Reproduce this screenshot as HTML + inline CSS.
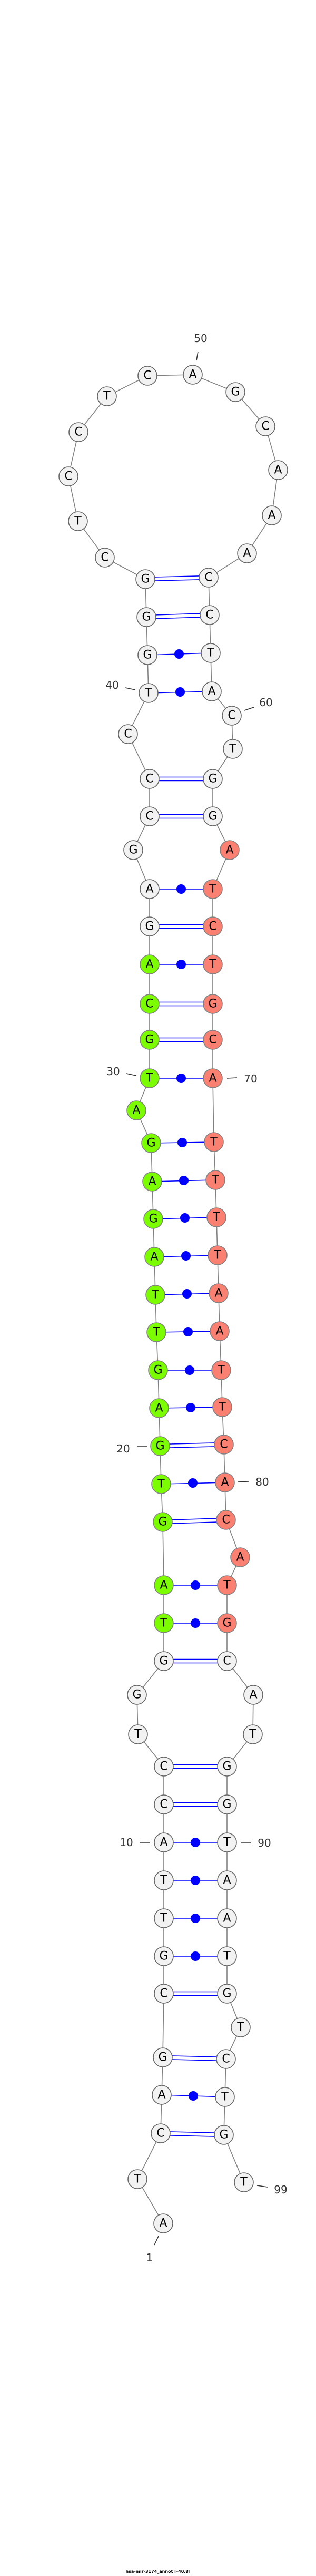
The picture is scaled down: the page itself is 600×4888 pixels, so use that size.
<!DOCTYPE html>
<html><head><meta charset="utf-8"><style>
html,body{margin:0;padding:0;background:#fff;width:600px;height:4888px;overflow:hidden}
svg{display:block}
.n circle{fill:#f2f2f2;stroke:#666;stroke-width:1.6}
.g circle{fill:#7cfc00;stroke:#808080}
.s circle{fill:#fa8072;stroke:#808080}
.n text{font-family:"DejaVu Sans","Liberation Sans",sans-serif;font-size:22px;text-anchor:middle;dominant-baseline:central;fill:#000}
.lb{font-family:"DejaVu Sans","Liberation Sans",sans-serif;font-size:20px;fill:#333;text-anchor:middle;dominant-baseline:central}
.tk{stroke:#333;stroke-width:1.6}
.p{stroke:#0000ff;stroke-width:1.6}
.d{fill:#0000ff}
</style></head><body>
<svg width="600" height="4888" viewBox="0 0 600 4888" xmlns="http://www.w3.org/2000/svg">
<polyline fill="none" stroke="#808080" stroke-width="1.6" points="310,4219 261,4135 305,4048 307,3975 309,3904 311,3783 311,3712 311,3640 311,3568 311,3496 311,3424 311,3352 262,3291 260,3216 311,3152 311,3080 311,3008 309,2888 306,2816 304,2744 302,2672 300,2600 297,2528 295,2457 293,2385 291,2313 289,2242 287,2169 259,2107 284,2046 284,1973 284,1905 284,1830 284,1758 284,1687 253,1613 284,1549 284,1478 243,1393 282,1315 280,1243 278,1171 276,1099 199,1058 148,989 130,904 149,820 203,752 280,713 366,711 447,744 504,809 528,892 516,978 469,1050 396,1096 398,1167 400,1239 402,1312 440,1358 442,1421 404,1478 404,1549 436,1613 404,1687 404,1758 404,1830 404,1905 404,1973 404,2046 406,2167 409,2239 411,2310 413,2382 415,2454 417,2526 420,2600 422,2670 425,2741 427,2813 429,2884 456,2955 431,3008 431,3080 431,3152 481,3216 480,3291 431,3352 431,3424 431,3496 431,3568 431,3640 431,3712 431,3783 457,3847 429,3907 427,3979 425,4051 463,4141"/>
<g class="p">
<!-- double (GC) pairs -->
<line x1="276" y1="1095.5" x2="396" y2="1092.5"/><line x1="276" y1="1102.5" x2="396" y2="1099.5"/>
<line x1="278" y1="1167.5" x2="398" y2="1163.5"/><line x1="278" y1="1174.5" x2="398" y2="1170.5"/>
<line x1="284" y1="1474.5" x2="404" y2="1474.5"/><line x1="284" y1="1481.5" x2="404" y2="1481.5"/>
<line x1="284" y1="1545.5" x2="404" y2="1545.5"/><line x1="284" y1="1552.5" x2="404" y2="1552.5"/>
<line x1="284" y1="1754.5" x2="404" y2="1754.5"/><line x1="284" y1="1761.5" x2="404" y2="1761.5"/>
<line x1="284" y1="1901.5" x2="404" y2="1901.5"/><line x1="284" y1="1908.5" x2="404" y2="1908.5"/>
<line x1="284" y1="1969.5" x2="404" y2="1969.5"/><line x1="284" y1="1976.5" x2="404" y2="1976.5"/>
<line x1="304" y1="2740.5" x2="425" y2="2737.5"/><line x1="304" y1="2747.5" x2="425" y2="2744.5"/>
<line x1="309" y1="2884.5" x2="429" y2="2880.5"/><line x1="309" y1="2891.5" x2="429" y2="2887.5"/>
<line x1="311" y1="3148.5" x2="431" y2="3148.5"/><line x1="311" y1="3155.5" x2="431" y2="3155.5"/>
<line x1="311" y1="3348.5" x2="431" y2="3348.5"/><line x1="311" y1="3355.5" x2="431" y2="3355.5"/>
<line x1="311" y1="3420.5" x2="431" y2="3420.5"/><line x1="311" y1="3427.5" x2="431" y2="3427.5"/>
<line x1="311" y1="3779.5" x2="431" y2="3779.5"/><line x1="311" y1="3786.5" x2="431" y2="3786.5"/>
<line x1="309" y1="3900.5" x2="429" y2="3903.5"/><line x1="309" y1="3907.5" x2="429" y2="3910.5"/>
<line x1="305" y1="4044.5" x2="425" y2="4047.5"/><line x1="305" y1="4051.5" x2="425" y2="4054.5"/>
<!-- single pairs -->
<line x1="280" y1="1243" x2="400" y2="1239"/>
<line x1="282" y1="1315" x2="402" y2="1312"/>
<line x1="284" y1="1687" x2="404" y2="1687"/>
<line x1="284" y1="1830" x2="404" y2="1830"/>
<line x1="284" y1="2046" x2="404" y2="2046"/>
<line x1="287" y1="2169" x2="406" y2="2167"/>
<line x1="289" y1="2242" x2="409" y2="2239"/>
<line x1="291" y1="2313" x2="411" y2="2310"/>
<line x1="293" y1="2385" x2="413" y2="2382"/>
<line x1="295" y1="2457" x2="415" y2="2454"/>
<line x1="297" y1="2528" x2="417" y2="2526"/>
<line x1="300" y1="2600" x2="420" y2="2600"/>
<line x1="302" y1="2672" x2="422" y2="2670"/>
<line x1="306" y1="2816" x2="427" y2="2813"/>
<line x1="311" y1="3008" x2="431" y2="3008"/>
<line x1="311" y1="3080" x2="431" y2="3080"/>
<line x1="311" y1="3496" x2="431" y2="3496"/>
<line x1="311" y1="3568" x2="431" y2="3568"/>
<line x1="311" y1="3640" x2="431" y2="3640"/>
<line x1="311" y1="3712" x2="431" y2="3712"/>
<line x1="307" y1="3975" x2="427" y2="3979"/>
</g>
<g class="d">
<circle cx="340" cy="1241" r="9"/><circle cx="342" cy="1313" r="9"/><circle cx="344" cy="1687" r="9"/><circle cx="344" cy="1830" r="9"/><circle cx="344" cy="2046" r="9"/><circle cx="346" cy="2168" r="9"/><circle cx="349" cy="2240" r="9"/><circle cx="351" cy="2311" r="9"/><circle cx="353" cy="2383" r="9"/><circle cx="355" cy="2455" r="9"/><circle cx="357" cy="2527" r="9"/><circle cx="360" cy="2600" r="9"/><circle cx="362" cy="2671" r="9"/><circle cx="366" cy="2814" r="9"/><circle cx="371" cy="3008" r="9"/><circle cx="371" cy="3080" r="9"/><circle cx="371" cy="3496" r="9"/><circle cx="371" cy="3568" r="9"/><circle cx="371" cy="3640" r="9"/><circle cx="371" cy="3712" r="9"/><circle cx="367" cy="3977" r="9"/>
</g>
<g class="n">
<g transform="translate(310,4219)"><circle r="18"/><text>A</text></g>
<g transform="translate(261,4135)"><circle r="18"/><text>T</text></g>
<g transform="translate(305,4048)"><circle r="18"/><text>C</text></g>
<g transform="translate(307,3975)"><circle r="18"/><text>A</text></g>
<g transform="translate(309,3904)"><circle r="18"/><text>G</text></g>
<g transform="translate(311,3783)"><circle r="18"/><text>C</text></g>
<g transform="translate(311,3712)"><circle r="18"/><text>G</text></g>
<g transform="translate(311,3640)"><circle r="18"/><text>T</text></g>
<g transform="translate(311,3568)"><circle r="18"/><text>T</text></g>
<g transform="translate(311,3496)"><circle r="18"/><text>A</text></g>
<g transform="translate(311,3424)"><circle r="18"/><text>C</text></g>
<g transform="translate(311,3352)"><circle r="18"/><text>C</text></g>
<g transform="translate(262,3291)"><circle r="18"/><text>T</text></g>
<g transform="translate(260,3216)"><circle r="18"/><text>G</text></g>
<g transform="translate(311,3152)"><circle r="18"/><text>G</text></g>
<g class="g" transform="translate(311,3080)"><circle r="18"/><text>T</text></g>
<g class="g" transform="translate(311,3008)"><circle r="18"/><text>A</text></g>
<g class="g" transform="translate(309,2888)"><circle r="18"/><text>G</text></g>
<g class="g" transform="translate(306,2816)"><circle r="18"/><text>T</text></g>
<g class="g" transform="translate(304,2744)"><circle r="18"/><text>G</text></g>
<g class="g" transform="translate(302,2672)"><circle r="18"/><text>A</text></g>
<g class="g" transform="translate(300,2600)"><circle r="18"/><text>G</text></g>
<g class="g" transform="translate(297,2528)"><circle r="18"/><text>T</text></g>
<g class="g" transform="translate(295,2457)"><circle r="18"/><text>T</text></g>
<g class="g" transform="translate(293,2385)"><circle r="18"/><text>A</text></g>
<g class="g" transform="translate(291,2313)"><circle r="18"/><text>G</text></g>
<g class="g" transform="translate(289,2242)"><circle r="18"/><text>A</text></g>
<g class="g" transform="translate(287,2169)"><circle r="18"/><text>G</text></g>
<g class="g" transform="translate(259,2107)"><circle r="18"/><text>A</text></g>
<g class="g" transform="translate(284,2046)"><circle r="18"/><text>T</text></g>
<g class="g" transform="translate(284,1973)"><circle r="18"/><text>G</text></g>
<g class="g" transform="translate(284,1905)"><circle r="18"/><text>C</text></g>
<g class="g" transform="translate(284,1830)"><circle r="18"/><text>A</text></g>
<g transform="translate(284,1758)"><circle r="18"/><text>G</text></g>
<g transform="translate(284,1687)"><circle r="18"/><text>A</text></g>
<g transform="translate(253,1613)"><circle r="18"/><text>G</text></g>
<g transform="translate(284,1549)"><circle r="18"/><text>C</text></g>
<g transform="translate(284,1478)"><circle r="18"/><text>C</text></g>
<g transform="translate(243,1393)"><circle r="18"/><text>C</text></g>
<g transform="translate(282,1315)"><circle r="18"/><text>T</text></g>
<g transform="translate(280,1243)"><circle r="18"/><text>G</text></g>
<g transform="translate(278,1171)"><circle r="18"/><text>G</text></g>
<g transform="translate(276,1099)"><circle r="18"/><text>G</text></g>
<g transform="translate(199,1058)"><circle r="18"/><text>C</text></g>
<g transform="translate(148,989)"><circle r="18"/><text>T</text></g>
<g transform="translate(130,904)"><circle r="18"/><text>C</text></g>
<g transform="translate(149,820)"><circle r="18"/><text>C</text></g>
<g transform="translate(203,752)"><circle r="18"/><text>T</text></g>
<g transform="translate(280,713)"><circle r="18"/><text>C</text></g>
<g transform="translate(366,711)"><circle r="18"/><text>A</text></g>
<g transform="translate(447,744)"><circle r="18"/><text>G</text></g>
<g transform="translate(504,809)"><circle r="18"/><text>C</text></g>
<g transform="translate(528,892)"><circle r="18"/><text>A</text></g>
<g transform="translate(516,978)"><circle r="18"/><text>A</text></g>
<g transform="translate(469,1050)"><circle r="18"/><text>A</text></g>
<g transform="translate(396,1096)"><circle r="18"/><text>C</text></g>
<g transform="translate(398,1167)"><circle r="18"/><text>C</text></g>
<g transform="translate(400,1239)"><circle r="18"/><text>T</text></g>
<g transform="translate(402,1312)"><circle r="18"/><text>A</text></g>
<g transform="translate(440,1358)"><circle r="18"/><text>C</text></g>
<g transform="translate(442,1421)"><circle r="18"/><text>T</text></g>
<g transform="translate(404,1478)"><circle r="18"/><text>G</text></g>
<g transform="translate(404,1549)"><circle r="18"/><text>G</text></g>
<g class="s" transform="translate(436,1613)"><circle r="18"/><text>A</text></g>
<g class="s" transform="translate(404,1687)"><circle r="18"/><text>T</text></g>
<g class="s" transform="translate(404,1758)"><circle r="18"/><text>C</text></g>
<g class="s" transform="translate(404,1830)"><circle r="18"/><text>T</text></g>
<g class="s" transform="translate(404,1905)"><circle r="18"/><text>G</text></g>
<g class="s" transform="translate(404,1973)"><circle r="18"/><text>C</text></g>
<g class="s" transform="translate(404,2046)"><circle r="18"/><text>A</text></g>
<g class="s" transform="translate(406,2167)"><circle r="18"/><text>T</text></g>
<g class="s" transform="translate(409,2239)"><circle r="18"/><text>T</text></g>
<g class="s" transform="translate(411,2310)"><circle r="18"/><text>T</text></g>
<g class="s" transform="translate(413,2382)"><circle r="18"/><text>T</text></g>
<g class="s" transform="translate(415,2454)"><circle r="18"/><text>A</text></g>
<g class="s" transform="translate(417,2526)"><circle r="18"/><text>A</text></g>
<g class="s" transform="translate(420,2600)"><circle r="18"/><text>T</text></g>
<g class="s" transform="translate(422,2670)"><circle r="18"/><text>T</text></g>
<g class="s" transform="translate(425,2741)"><circle r="18"/><text>C</text></g>
<g class="s" transform="translate(427,2813)"><circle r="18"/><text>A</text></g>
<g class="s" transform="translate(429,2884)"><circle r="18"/><text>C</text></g>
<g class="s" transform="translate(456,2955)"><circle r="18"/><text>A</text></g>
<g class="s" transform="translate(431,3008)"><circle r="18"/><text>T</text></g>
<g class="s" transform="translate(431,3080)"><circle r="18"/><text>G</text></g>
<g transform="translate(431,3152)"><circle r="18"/><text>C</text></g>
<g transform="translate(481,3216)"><circle r="18"/><text>A</text></g>
<g transform="translate(480,3291)"><circle r="18"/><text>T</text></g>
<g transform="translate(431,3352)"><circle r="18"/><text>G</text></g>
<g transform="translate(431,3424)"><circle r="18"/><text>G</text></g>
<g transform="translate(431,3496)"><circle r="18"/><text>T</text></g>
<g transform="translate(431,3568)"><circle r="18"/><text>A</text></g>
<g transform="translate(431,3640)"><circle r="18"/><text>A</text></g>
<g transform="translate(431,3712)"><circle r="18"/><text>T</text></g>
<g transform="translate(431,3783)"><circle r="18"/><text>G</text></g>
<g transform="translate(457,3847)"><circle r="18"/><text>T</text></g>
<g transform="translate(429,3907)"><circle r="18"/><text>C</text></g>
<g transform="translate(427,3979)"><circle r="18"/><text>T</text></g>
<g transform="translate(425,4051)"><circle r="18"/><text>G</text></g>
<g transform="translate(463,4141)"><circle r="18"/><text>T</text></g>
</g>
<g class="tk">
<line x1="376" y1="667" x2="373" y2="684"/>
<line x1="238" y1="1305" x2="257" y2="1309"/>
<line x1="464" y1="1348" x2="482" y2="1342"/>
<line x1="240" y1="2037" x2="259" y2="2041"/>
<line x1="431" y1="2046" x2="450" y2="2045"/>
<line x1="260" y1="2745" x2="279" y2="2745"/>
<line x1="452" y1="2812" x2="472" y2="2811"/>
<line x1="266" y1="3496" x2="285" y2="3496"/>
<line x1="457" y1="3496" x2="477" y2="3496"/>
<line x1="488" y1="4147" x2="508" y2="4150"/>
<line x1="293" y1="4260" x2="301" y2="4243"/>
</g>
<text class="lb" x="381" y="642">50</text>
<text class="lb" x="213" y="1300">40</text>
<text class="lb" x="505" y="1333">60</text>
<text class="lb" x="215" y="2033">30</text>
<text class="lb" x="476" y="2047">70</text>
<text class="lb" x="234" y="2749">20</text>
<text class="lb" x="498" y="2812">80</text>
<text class="lb" x="240" y="3496">10</text>
<text class="lb" x="502" y="3497">90</text>
<text class="lb" x="533" y="4155">99</text>
<text class="lb" x="284" y="4284">1</text>
<text x="300" y="4882" style="font-family:'DejaVu Sans','Liberation Sans',sans-serif;font-size:8px;font-weight:bold;text-anchor:middle;fill:#000">hsa-mir-3174_annot [-40.8]</text>
</svg>
</body></html>
